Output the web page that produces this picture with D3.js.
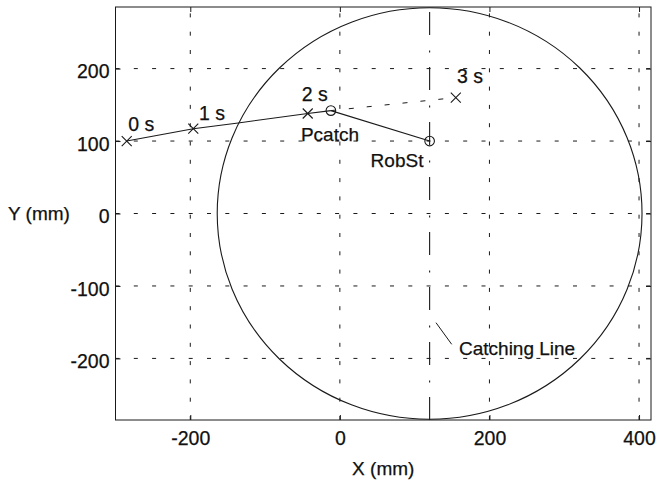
<!DOCTYPE html>
<html>
<head>
<meta charset="utf-8">
<script src="https://cdn.jsdelivr.net/npm/d3@7"></script>
<style>
  html, body { margin: 0; padding: 0; background: #fff; }
  svg { display: block; }
  text { font-family: "Liberation Sans", Arial, Helvetica, sans-serif; fill: #111; }
</style>
</head>
<body>
<svg id="chart" width="657" height="483"></svg>
<script>
// Ball trajectory (mm) up to the catch point
const trajX = [-285, -196, -136, -43, -12];
const trajY = [100, 117, 125, 138, 142];

// Time stamps along the predicted flight
const timeLabels = ["0 s", "1 s", "2 s", "3 s"];
const timeX = [-285, -196, -43, 155];
const timeY = [100, 117, 138, 160];

// Catch point and robot start
const pointNames = ["Pcatch", "RobSt"];
const pointX = [-12, 120];
const pointY = [142, 100];

// Predicted continuation after the catch point
const predX = [-12, 155];
const predY = [142, 160];

// Robot workspace (circle) and catching line
const workCenter = [120, 0];
const workRadius = 284;
const catchLineX = 120;

// Axis ticks
const xTicks = [-200, 0, 200, 400];
const yTicks = [-200, -100, 0, 100, 200];
const xDomain = [-300, 416];
const yDomain = [-285, 285];

const svg = d3.select("#chart");
const W = 657, H = 483;
const plot = { left: 115.5, right: 651, top: 7, bottom: 420 };

svg.append("rect").attr("width", W).attr("height", H).attr("fill", "#fff");

const x = d3.scaleLinear().domain(xDomain).range([plot.left, plot.right]);
const y = d3.scaleLinear().domain(yDomain).range([plot.bottom, plot.top]);

const ink = "#1a1a1a";
const fmt = d => String(d); // plain hyphen-minus labels

// Grid lines (dotted)
const grid = svg.append("g");
grid.selectAll(".vg").data(xTicks).join("line")
  .attr("x1", d => x(d)).attr("x2", d => x(d))
  .attr("y1", plot.bottom).attr("y2", plot.top)
  .attr("stroke", ink).attr("stroke-width", 1)
  .attr("stroke-dasharray", "4,14.3");
grid.selectAll(".hg").data(yTicks).join("line")
  .attr("y1", d => y(d)).attr("y2", d => y(d))
  .attr("x1", plot.left).attr("x2", plot.right)
  .attr("stroke", ink).attr("stroke-width", 1)
  .attr("stroke-dasharray", "4,14.3");

// Axes with inward ticks on all four sides
const tickLen = 5;
const axB = svg.append("g").attr("transform", `translate(0,${plot.bottom})`)
  .call(d3.axisBottom(x).tickValues(xTicks).tickFormat(fmt).tickSizeInner(-tickLen).tickSizeOuter(0).tickPadding(11));
const axT = svg.append("g").attr("transform", `translate(0,${plot.top})`)
  .call(d3.axisTop(x).tickValues(xTicks).tickSizeInner(-tickLen).tickSizeOuter(0).tickFormat(""));
const axL = svg.append("g").attr("transform", `translate(${plot.left},0)`)
  .call(d3.axisLeft(y).tickValues(yTicks).tickFormat(fmt).tickSizeInner(-tickLen).tickSizeOuter(0).tickPadding(6));
const axR = svg.append("g").attr("transform", `translate(${plot.right},0)`)
  .call(d3.axisRight(y).tickValues(yTicks).tickSizeInner(-tickLen).tickSizeOuter(0).tickFormat(""));

[axB, axT, axL, axR].forEach(g => {
  g.select(".domain").remove();
  g.selectAll(".tick line").attr("stroke", ink);
  g.selectAll(".tick text")
    .attr("font-family", '"Liberation Sans", Arial, sans-serif')
    .attr("font-size", 19.5).attr("fill", "#111")
    .attr("stroke", "#111").attr("stroke-width", 0.25);
});
axL.selectAll(".tick text").attr("dy", "0.47em");

// Frame
svg.append("rect")
  .attr("x", plot.left).attr("y", plot.top)
  .attr("width", plot.right - plot.left).attr("height", plot.bottom - plot.top)
  .attr("fill", "none").attr("stroke", ink).attr("stroke-width", 1);

// Workspace circle
svg.append("ellipse")
  .attr("cx", x(workCenter[0])).attr("cy", y(workCenter[1]))
  .attr("rx", x(workCenter[0] + workRadius) - x(workCenter[0]))
  .attr("ry", y(workCenter[1]) - y(workCenter[1] + workRadius))
  .attr("fill", "none").attr("stroke", ink).attr("stroke-width", 1.1);

// Catching line (dash-dot), drawn from the bottom up
svg.append("line")
  .attr("x1", x(catchLineX)).attr("x2", x(catchLineX))
  .attr("y1", y(yDomain[0])).attr("y2", y(yDomain[1]))
  .attr("stroke", ink).attr("stroke-width", 1.1)
  .attr("stroke-dasharray", "23,14.5,2,15.5");

const line = d3.line().x(d => x(d[0])).y(d => y(d[1]));

// Trajectory up to Pcatch
svg.append("path")
  .attr("d", line(trajX.map((v, i) => [v, trajY[i]])))
  .attr("fill", "none").attr("stroke", ink).attr("stroke-width", 1.1);

// Robot path from start to catch point
svg.append("path")
  .attr("d", line(pointX.map((v, i) => [v, pointY[i]])))
  .attr("fill", "none").attr("stroke", ink).attr("stroke-width", 1.1);

// Predicted flight past the catch point (dashed)
svg.append("path")
  .attr("d", line(predX.map((v, i) => [v, predY[i]])))
  .attr("fill", "none").attr("stroke", ink).attr("stroke-width", 1)
  .attr("stroke-dasharray", "5,13");

// Time markers (x)
const xs = 5;
const timeG = svg.append("g").selectAll("g").data(timeLabels).join("g")
  .attr("transform", (d, i) => `translate(${x(timeX[i])},${y(timeY[i])})`);
timeG.append("path")
  .attr("d", `M${-xs},${-xs}L${xs},${xs}M${-xs},${xs}L${xs},${-xs}`)
  .attr("stroke", ink).attr("stroke-width", 1.1);
const timeOff = [[1.6, -10], [5.7, -8.8], [-6, -12.3], [1.3, -14.6]];
timeG.append("text")
  .attr("x", (d, i) => timeOff[i][0]).attr("y", (d, i) => timeOff[i][1])
  .attr("font-size", 19.5).attr("stroke", "#111").attr("stroke-width", 0.25)
  .text(d => d);

// Pcatch / RobSt markers (o)
const ptG = svg.append("g").selectAll("g").data(pointNames).join("g")
  .attr("transform", (d, i) => `translate(${x(pointX[i])},${y(pointY[i])})`);
ptG.append("circle").attr("r", 4.8)
  .attr("fill", "none").attr("stroke", ink).attr("stroke-width", 1.1);
const ptOff = [[-30, 30.8], [-59, 26]];
ptG.append("text")
  .attr("x", (d, i) => ptOff[i][0]).attr("y", (d, i) => ptOff[i][1])
  .attr("font-size", 19).attr("stroke", "#111").attr("stroke-width", 0.25)
  .text(d => d);

// Catching line annotation
svg.append("line")
  .attr("x1", 436).attr("y1", 322.7).attr("x2", 451.7).attr("y2", 344.3)
  .attr("stroke", ink).attr("stroke-width", 1);
svg.append("text").attr("x", 459).attr("y", 354.5)
  .attr("font-size", 19).attr("stroke", "#111").attr("stroke-width", 0.25)
  .text("Catching Line");

// Axis titles
svg.append("text").attr("x", 8).attr("y", 219.5)
  .attr("font-size", 19).attr("stroke", "#111").attr("stroke-width", 0.25)
  .text("Y (mm)");
svg.append("text").attr("x", (plot.left + plot.right) / 2).attr("y", 475)
  .attr("text-anchor", "middle").attr("font-size", 19)
  .attr("stroke", "#111").attr("stroke-width", 0.25)
  .text("X (mm)");
</script>
</body>
</html>
